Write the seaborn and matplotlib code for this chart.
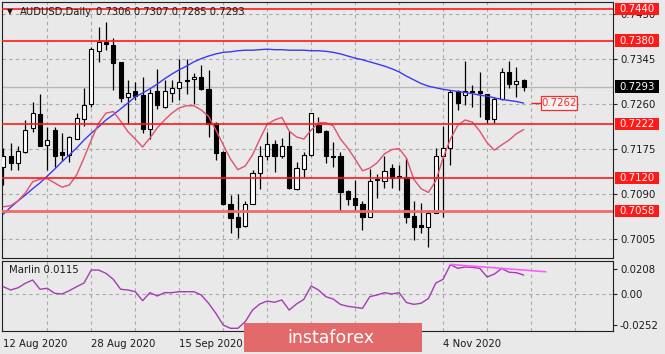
import numpy as np
import pandas as pd
import matplotlib
matplotlib.use('Agg')
import matplotlib.pyplot as plt
from matplotlib.patches import Rectangle
import seaborn as sns

# AUDUSD daily candles (12 Aug - 19 Nov 2020)
open_px = [0.7142, 0.7162, 0.7148, 0.7169, 0.7214, 0.7241, 0.7182, 0.7211, 0.7170, 0.7163,
           0.7195, 0.7231, 0.7260, 0.7361, 0.7377, 0.7372, 0.7339, 0.7273, 0.7285, 0.7277,
           0.7213, 0.7284, 0.7255, 0.7282, 0.7290, 0.7306, 0.7307, 0.7312, 0.7288, 0.7225,
           0.7170, 0.7071, 0.7047, 0.7029, 0.7072, 0.7129, 0.7161, 0.7185, 0.7162, 0.7181,
           0.7099, 0.7137, 0.7163, 0.7221, 0.7210, 0.7162, 0.7161, 0.7095, 0.7082, 0.7071,
           0.7047, 0.7117, 0.7115, 0.7139, 0.7124, 0.7123, 0.7048, 0.7031, 0.7028, 0.7055,
           0.7162, 0.7177, 0.7284, 0.7277, 0.7285, 0.7285, 0.7279, 0.7232, 0.7270, 0.7320,
           0.7298, 0.7306]
high_px = [0.7177, 0.7187, 0.7180, 0.7230, 0.7265, 0.7279, 0.7216, 0.7217, 0.7205, 0.7199,
           0.7243, 0.7291, 0.7369, 0.7405, 0.7416, 0.7385, 0.7340, 0.7306, 0.7301, 0.7312,
           0.7289, 0.7326, 0.7306, 0.7306, 0.7345, 0.7345, 0.7318, 0.7334, 0.7325, 0.7226,
           0.7171, 0.7088, 0.7090, 0.7076, 0.7136, 0.7180, 0.7208, 0.7192, 0.7196, 0.7209,
           0.7151, 0.7170, 0.7244, 0.7236, 0.7211, 0.7189, 0.7170, 0.7098, 0.7117, 0.7076,
           0.7137, 0.7127, 0.7161, 0.7147, 0.7145, 0.7158, 0.7076, 0.7073, 0.7060, 0.7177,
           0.7219, 0.7287, 0.7287, 0.7342, 0.7296, 0.7320, 0.7280, 0.7274, 0.7328, 0.7342,
           0.7331, 0.7307]
low_px = [0.7107, 0.7136, 0.7136, 0.7167, 0.7208, 0.7180, 0.7136, 0.7142, 0.7153, 0.7151,
          0.7194, 0.7219, 0.7255, 0.7340, 0.7362, 0.7287, 0.7265, 0.7222, 0.7268, 0.7205,
          0.7194, 0.7250, 0.7252, 0.7265, 0.7268, 0.7279, 0.7260, 0.7287, 0.7198, 0.7154,
          0.7069, 0.7016, 0.7006, 0.7028, 0.7071, 0.7099, 0.7154, 0.7132, 0.7158, 0.7099,
          0.7098, 0.7123, 0.7161, 0.7205, 0.7149, 0.7142, 0.7057, 0.7069, 0.7057, 0.7022,
          0.7046, 0.7083, 0.7101, 0.7101, 0.7098, 0.7036, 0.7003, 0.7016, 0.6990, 0.7055,
          0.7047, 0.7145, 0.7249, 0.7258, 0.7254, 0.7236, 0.7225, 0.7224, 0.7268, 0.7290,
          0.7274, 0.7285]
close_px = [0.7161, 0.7148, 0.7171, 0.7212, 0.7243, 0.7181, 0.7192, 0.7161, 0.7163, 0.7197,
            0.7234, 0.7258, 0.7364, 0.7377, 0.7373, 0.7338, 0.7272, 0.7282, 0.7275, 0.7213,
            0.7282, 0.7258, 0.7284, 0.7290, 0.7302, 0.7303, 0.7312, 0.7289, 0.7223, 0.7168,
            0.7071, 0.7044, 0.7028, 0.7071, 0.7129, 0.7162, 0.7185, 0.7161, 0.7180, 0.7101,
            0.7139, 0.7163, 0.7243, 0.7208, 0.7161, 0.7160, 0.7093, 0.7080, 0.7069, 0.7047,
            0.7115, 0.7118, 0.7134, 0.7120, 0.7122, 0.7046, 0.7028, 0.7028, 0.7055, 0.7162,
            0.7178, 0.7283, 0.7262, 0.7284, 0.7283, 0.7281, 0.7232, 0.7270, 0.7320, 0.7299,
            0.7304, 0.7293]

# moving averages drawn on the price panel
ma_slow = [0.7052, 0.7065, 0.7077, 0.7088, 0.7100, 0.7111, 0.7124, 0.7137, 0.7151, 0.7164,
           0.7177, 0.7192, 0.7205, 0.7217, 0.7230, 0.7240, 0.7251, 0.7262, 0.7274, 0.7281,
           0.7289, 0.7298, 0.7308, 0.7317, 0.7325, 0.7332, 0.7340, 0.7346, 0.7351, 0.7355,
           0.7358, 0.7359, 0.7361, 0.7362, 0.7362, 0.7363, 0.7364, 0.7363, 0.7363, 0.7362,
           0.7362, 0.7362, 0.7361, 0.7361, 0.7360, 0.7358, 0.7355, 0.7351, 0.7347, 0.7344,
           0.7340, 0.7336, 0.7332, 0.7327, 0.7321, 0.7313, 0.7306, 0.7299, 0.7294, 0.7291,
           0.7288, 0.7286, 0.7284, 0.7282, 0.7280, 0.7277, 0.7275, 0.7272, 0.7269, 0.7267,
           0.7265, 0.7262]
ma_fast = [0.7066, 0.7068, 0.7077, 0.7092, 0.7113, 0.7118, 0.7119, 0.7111, 0.7103, 0.7107,
           0.7126, 0.7158, 0.7192, 0.7224, 0.7243, 0.7246, 0.7228, 0.7208, 0.7194, 0.7179,
           0.7196, 0.7215, 0.7230, 0.7243, 0.7253, 0.7257, 0.7257, 0.7249, 0.7237, 0.7211,
           0.7183, 0.7156, 0.7136, 0.7143, 0.7164, 0.7194, 0.7222, 0.7230, 0.7235, 0.7209,
           0.7198, 0.7194, 0.7211, 0.7225, 0.7225, 0.7219, 0.7194, 0.7177, 0.7156, 0.7134,
           0.7139, 0.7149, 0.7166, 0.7174, 0.7176, 0.7158, 0.7118, 0.7100, 0.7093, 0.7115,
           0.7158, 0.7194, 0.7220, 0.7230, 0.7226, 0.7209, 0.7187, 0.7173, 0.7183, 0.7192,
           0.7204, 0.7212]

# Marlin oscillator (lower panel)
marlin = [0.0060, 0.0033, 0.0051, 0.0088, 0.0115, 0.0039, 0.0047, 0.0006, 0.0000, 0.0027,
          0.0060, 0.0090, 0.0197, 0.0197, 0.0170, 0.0121, 0.0039, 0.0033, 0.0019, -0.0055,
          0.0011, -0.0016, 0.0011, 0.0011, 0.0019, 0.0019, 0.0019, -0.0008, -0.0076, -0.0159,
          -0.0255, -0.0282, -0.0282, -0.0228, -0.0132, -0.0082, -0.0058, -0.0068, -0.0049, -0.0132,
          -0.0082, -0.0044, 0.0066, 0.0033, -0.0022, -0.0041, -0.0086, -0.0101, -0.0109, -0.0118,
          -0.0022, -0.0008, 0.0011, 0.0000, 0.0011, -0.0070, -0.0085, -0.0076, -0.0037, 0.0090,
          0.0121, 0.0242, 0.0211, 0.0222, 0.0219, 0.0211, 0.0140, 0.0164, 0.0210, 0.0179,
          0.0175, 0.0156]
marlin_trend_bars = [61, 74]
marlin_trend_vals = [0.0243, 0.0183]

levels = [0.7440, 0.7380, 0.7222, 0.7120, 0.7058]
price_ticks = [0.7005, 0.7090, 0.7175, 0.7260, 0.7345, 0.7430]
marlin_ticks = [0.0208, 0.0, -0.0252]
marlin_tick_labels = ['0.0208', '0.00', '-0.0252']
# date labels left visible (the ones under the watermark are hidden)
date_tick_bars = [0, 12, 24, 60]

bars = pd.DataFrame({'date': pd.bdate_range('2020-08-12', periods=len(open_px)),
                     'open': open_px, 'high': high_px, 'low': low_px, 'close': close_px,
                     'ma_slow': ma_slow, 'ma_fast': ma_fast, 'marlin': marlin})
bars['bar'] = np.arange(len(bars))
bars['up'] = bars['close'] >= bars['open']

W, H = 665, 354
BG = '#e9e9e9'
GRID = '#a9a9a9'

sns.set_style('white')
plt.rcParams['font.family'] = ['DejaVu Sans']
plt.rcParams['axes.linewidth'] = 0.8

fig = plt.figure(figsize=(W / 100, H / 100), dpi=100, facecolor=BG)


def fx(px):
    return px / W


def fy(py):
    return 1 - py / H


ax = fig.add_axes([fx(2), fy(258), fx(613) - fx(2), fy(2) - fy(258)], facecolor=BG)
axm = fig.add_axes([fx(2), fy(331), fx(613) - fx(2), fy(260.5) - fy(331)], facecolor=BG)

xmin, xmax = -0.18, 83.18
grid_bars = np.arange(6, 84, 6)

# ---------------- price panel ----------------
ax.set_xlim(xmin, xmax)
ax.set_ylim(0.69690, 0.74532)
for b in grid_bars:
    ax.axvline(b, color=GRID, lw=0.8, ls=(0, (3, 3)), zorder=1)
for p in price_ticks:
    ax.axhline(p, color=GRID, lw=0.8, ls=(0, (3, 3)), zorder=1)

# bid line
ax.axhline(bars['close'].iloc[-1], color='#b8b8b8', lw=1.0, zorder=1.5)

ax.vlines(bars['bar'], bars['low'], bars['high'], color='black', lw=0.9, zorder=3)
body_lo = bars[['open', 'close']].min(axis=1)
body_h = (bars['close'] - bars['open']).abs().clip(lower=0.00003)
ax.bar(bars['bar'], body_h, bottom=body_lo, width=0.56,
       color=np.where(bars['up'], 'white', 'black'), edgecolor='black', lw=0.8, zorder=4)

sns.lineplot(data=bars, x='bar', y='ma_slow', ax=ax, color='#3a3af5', lw=1.0, zorder=5)
sns.lineplot(data=bars, x='bar', y='ma_fast', ax=ax, color='#e4506c', lw=1.0, zorder=5)

for lv in levels:
    is_low = lv == levels[-1]
    ax.axhline(lv, color='#f26a6a' if is_low else '#ff1a1a', lw=2.0 if is_low else 1.2, zorder=6)

ax.yaxis.tick_right()
ax.set_yticks(price_ticks)
ax.set_yticklabels([f'{p:.4f}' for p in price_ticks])
ax.tick_params(axis='y', length=3, width=0.8, pad=2, labelsize=7.3, labelcolor='#1a1a1a')
ax.tick_params(axis='x', bottom=False, labelbottom=False)
ax.set_xlabel('')
ax.set_ylabel('')
for s in ax.spines.values():
    s.set_color('#202020')

box_w = 44 / 611
box_h = 12.5 / 5287
ytr = ax.get_yaxis_transform()
for lv in levels:
    ax.add_patch(Rectangle((1.004, lv - box_h / 2), box_w, box_h, transform=ytr,
                           fc='#ff1a1a', ec='none', clip_on=False, zorder=7))
    ax.text(1.004 + box_w / 2, lv, f'{lv:.4f}', transform=ytr, ha='center', va='center',
            color='white', fontsize=7.3, clip_on=False, zorder=8)
last_close = bars['close'].iloc[-1]
ax.add_patch(Rectangle((1.004, last_close - box_h / 2), box_w, box_h, transform=ytr,
                       fc='black', ec='none', clip_on=False, zorder=7))
ax.text(1.004 + box_w / 2, last_close, f'{last_close:.4f}', transform=ytr, ha='center',
        va='center', color='white', fontsize=7.3, clip_on=False, zorder=8)

# price label of the slow average
last_bar = bars['bar'].iloc[-1]
ma_last = bars['ma_slow'].iloc[-1]
ax.plot([last_bar + 1.1, last_bar + 2.3], [ma_last, ma_last], color='#ff1a1a', lw=1.0, zorder=6)
ax.add_patch(Rectangle((last_bar + 2.3, ma_last - box_h * 0.55), 5.0, box_h * 1.1,
                       fc='#f4f4f4', ec='#ff2a2a', lw=0.9, zorder=7))
ax.text(last_bar + 4.8, ma_last, f'{ma_last:.4f}', ha='center', va='center',
        color='#ff2a2a', fontsize=7.3, zorder=8)

# ---------------- Marlin panel ----------------
axm.set_xlim(xmin, xmax)
axm.set_ylim(-0.03041, 0.02754)
for b in grid_bars:
    axm.axvline(b, color=GRID, lw=0.8, ls=(0, (3, 3)), zorder=1)
axm.axhline(0, color=GRID, lw=0.8, ls=(0, (3, 3)), zorder=1)
sns.lineplot(data=bars, x='bar', y='marlin', ax=axm, color='#a43cb4', lw=1.0, zorder=4)
sns.lineplot(x=marlin_trend_bars, y=marlin_trend_vals, ax=axm, color='#ff5cff', lw=1.2, zorder=5)

axm.yaxis.tick_right()
axm.set_yticks(marlin_ticks)
axm.set_yticklabels(marlin_tick_labels)
axm.tick_params(axis='y', length=3, width=0.8, pad=2, labelsize=7.3, labelcolor='#1a1a1a')
axm.set_xticks(date_tick_bars)
axm.set_xticklabels([f"{bars['date'].iloc[b].day} {bars['date'].iloc[b]:%b %Y}" for b in date_tick_bars])
axm.tick_params(axis='x', length=4, width=0.8, pad=2, labelsize=7.3, labelcolor='#1a1a1a')
for lab in axm.get_xticklabels():
    lab.set_ha('left')
axm.set_xlabel('')
axm.set_ylabel('')
for s in axm.spines.values():
    s.set_color('#202020')
axm.text(fx(7) / (fx(613) - fx(2)), 0.86, 'Marlin 0.0115', transform=axm.transAxes,
         ha='left', va='center', fontsize=7.3, color='#1a1a1a')

# ---------------- header text ----------------
fig.text(fx(9.5), fy(12), '\u25bc', ha='center', va='center', fontsize=5.5, color='#1a1a1a')
fig.text(fx(20), fy(12.3), 'AUDUSD,Daily', ha='left', va='center', fontsize=7.2, color='#1a1a1a')
last = bars.iloc[-1]
fig.text(fx(96.5), fy(12.3), f"{last['open']:.4f} {last['high']:.4f} {last['low']:.4f} {last['close']:.4f}",
         ha='left', va='center', fontsize=7.2, color='#1a1a1a')

# ---------------- watermark ----------------
fig.patches.append(Rectangle((fx(244), fy(352)), fx(422) - fx(244), fy(322.5) - fy(352),
                             transform=fig.transFigure, fc='#e26a6a', ec='none', zorder=20))
fig.text(fx(331), fy(338), 'instaforex', ha='center', va='center', fontsize=12.5,
         color='white', zorder=21)

fig.savefig('out.png', dpi=100, facecolor=BG)
